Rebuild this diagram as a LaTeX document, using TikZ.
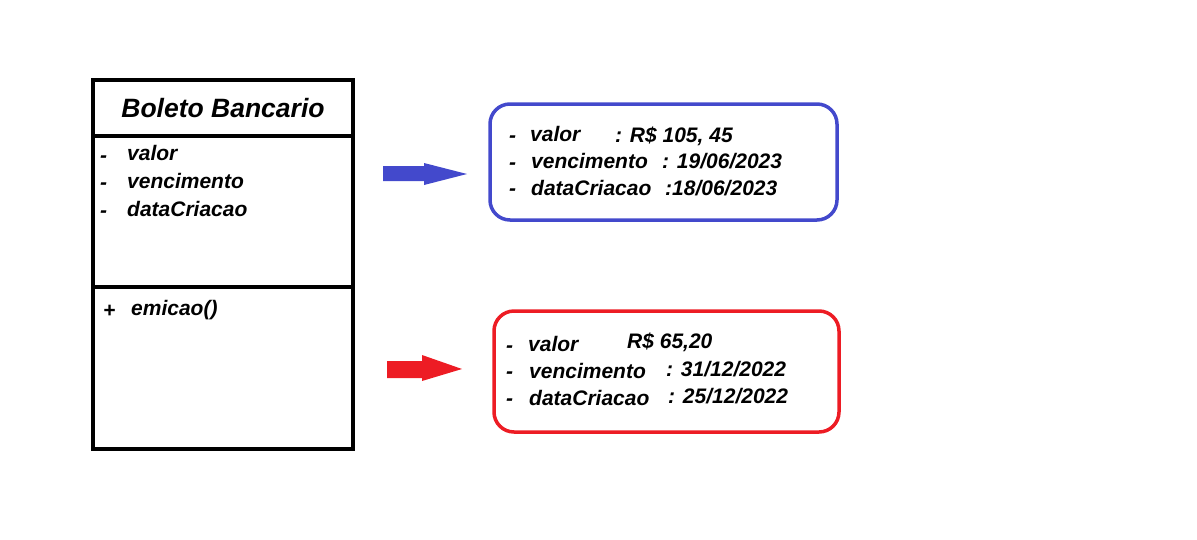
\documentclass[tikz,border=0pt]{standalone}
\usepackage{fontspec}
\setmainfont{Liberation Sans}
\usetikzlibrary{positioning}
\definecolor{objblue}{RGB}{67,73,204}
\definecolor{objred}{RGB}{237,28,36}

\begin{document}
\begin{tikzpicture}
		[x=1pt,y=-1pt,
		txt node/.style={anchor=west,inner sep=0pt,text height=15pt,text depth=1pt,font=\fontsize{21}{24}\selectfont\bfseries\itshape},
		title node/.style={inner sep=0pt,font=\fontsize{26.5}{30}\selectfont\bfseries\itshape},
		obj box/.style={draw,line width=3.5pt,rounded corners=20pt}
		]
		
		\useasboundingbox (0,0) rectangle (1197,539);
		
		% class
		\draw[line width=4pt] (93,80) rectangle (353,449);
		\draw[line width=4pt] (93,136) -- (353,136);
		\draw[line width=4pt] (93,287) -- (353,287);
		\node [title node] (title) at (223,108) {Boleto Bancario};
		
		\node [txt node] (m1) at (100,155) {-};
		\node [txt node] (a1) at (127,153) {valor};
		\node [txt node] (m2) at (100,182) {-};
		\node [txt node] (a2) at (127,181) {vencimento};
		\node [txt node] (m3) at (100,210) {-};
		\node [txt node] (a3) at (127,209) {dataCriacao};
		\node [txt node] (p1) at (103,310) {+};
		\node [txt node] (op1) at (131,308) {emicao()};
		
		% object 1
		\draw[obj box,objblue] (490,104) rectangle (837,220);
		\fill[objblue] (383,166) -- (424,166) -- (424,163) -- (467,174)
			-- (424,185) -- (424,181) -- (383,181) -- cycle;
		\node [txt node] (b1) at (509,135) {-};
		\node [txt node] (bv1) at (530,134) {valor};
		\node [txt node] (bx1) at (615,135) {: R\$ 105, 45};
		\node [txt node] (b2) at (509,162) {-};
		\node [txt node] (bv2) at (531,161) {vencimento};
		\node [txt node] (bx2) at (662,161) {: 19/06/2023};
		\node [txt node] (b3) at (509,188) {-};
		\node [txt node] (bv3) at (531,188) {dataCriacao};
		\node [txt node] (bx3) at (665,188) {:18/06/2023};
		
		% object 2
		\draw[obj box,objred] (494,311) rectangle (839,432);
		\fill[objred] (387,361) -- (422,361) -- (422,355) -- (462,369)
			-- (422,381) -- (422,378) -- (387,378) -- cycle;
		\node [txt node] (r1) at (506,345) {-};
		\node [txt node] (rv1) at (528,344) {valor};
		\node [txt node] (rx1) at (627,341) {R\$ 65,20};
		\node [txt node] (r2) at (506,371) {-};
		\node [txt node] (rv2) at (529,371) {vencimento};
		\node [txt node] (rx2) at (666,369) {: 31/12/2022};
		\node [txt node] (r3) at (506,398) {-};
		\node [txt node] (rv3) at (529,398) {dataCriacao};
		\node [txt node] (rx3) at (668,396) {: 25/12/2022};
		
\end{tikzpicture}
\end{document}
